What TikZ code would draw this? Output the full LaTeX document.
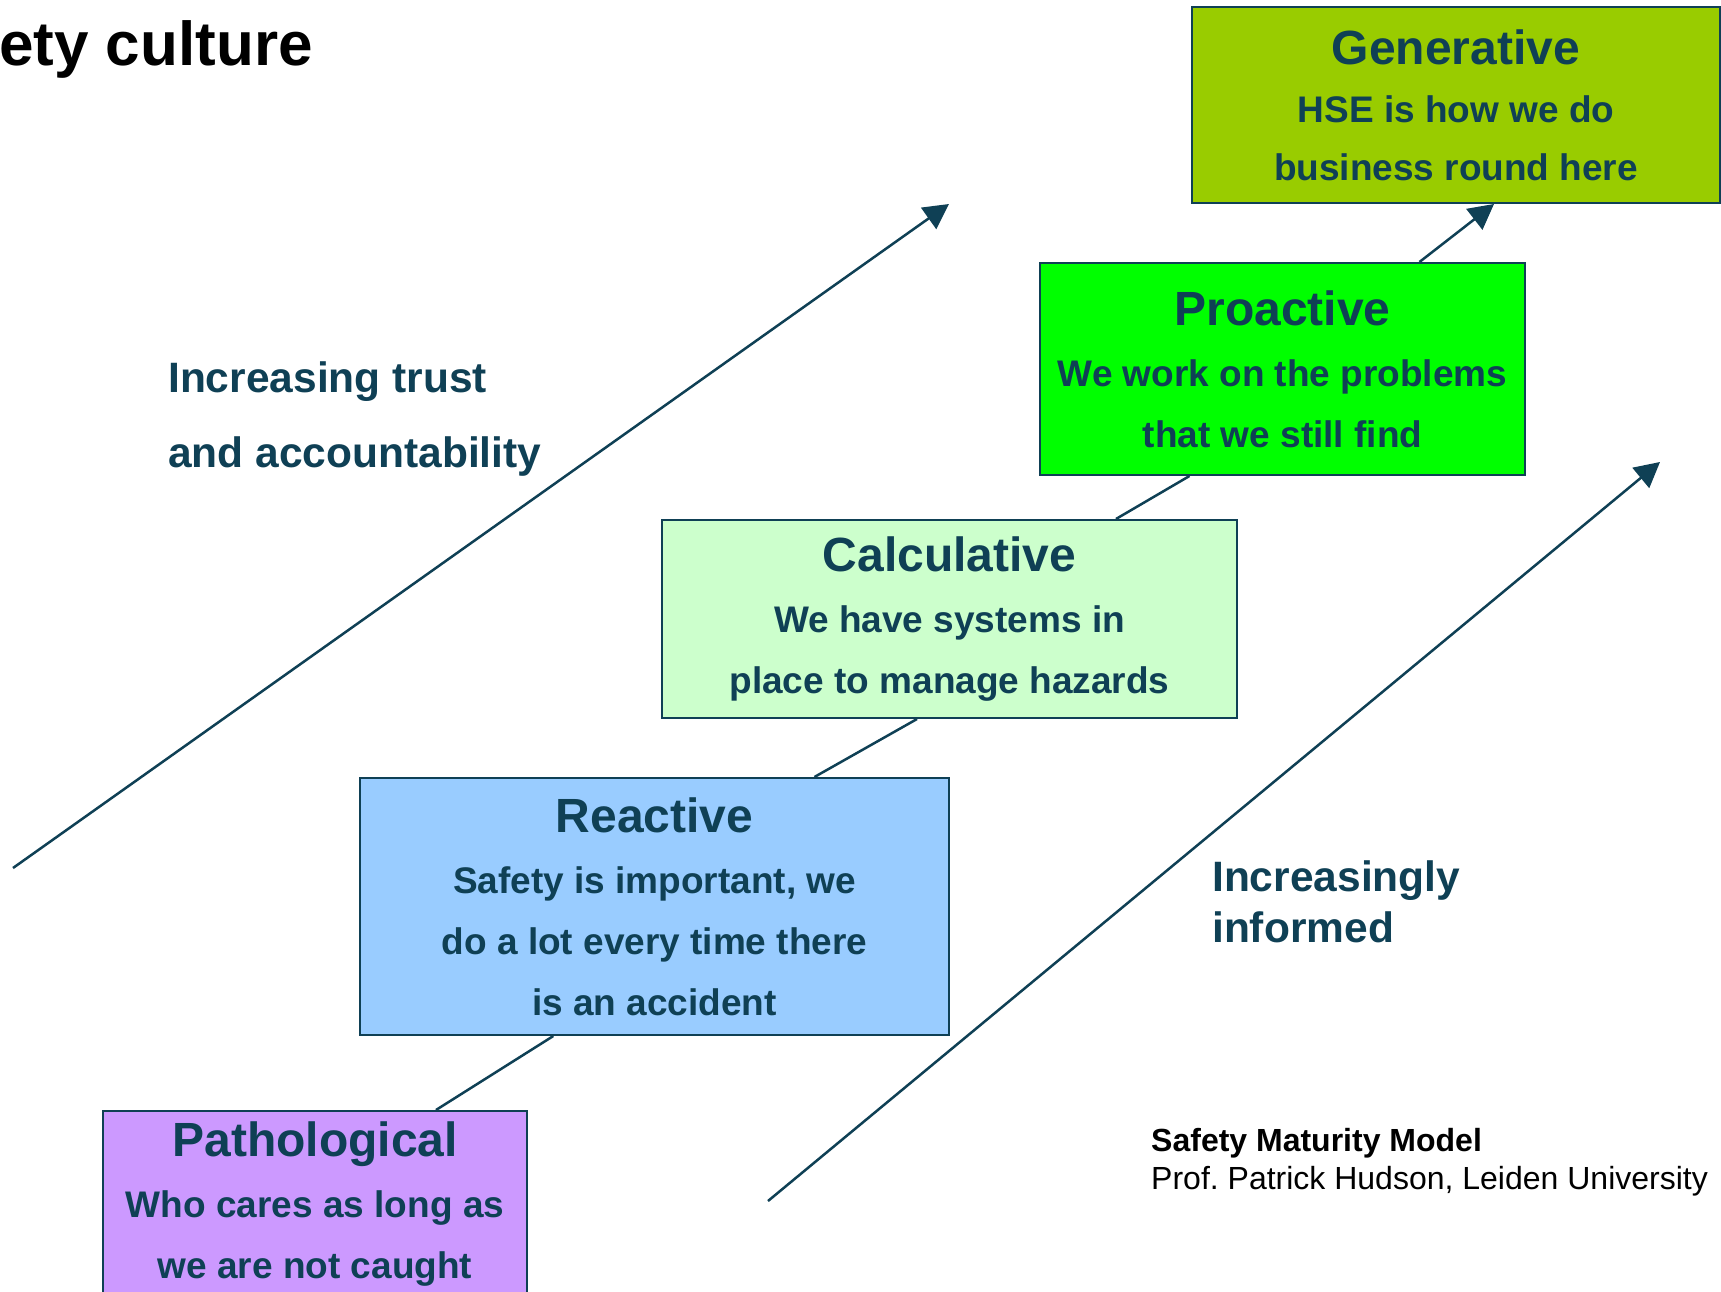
\documentclass[tikz,border=0pt]{standalone}
\usepackage{fontspec}
\setmainfont{Liberation Sans}
\usepackage{xcolor}
\usetikzlibrary{arrows.meta}
\definecolor{ink}{HTML}{0F4055}
\definecolor{genfill}{HTML}{99CC00}
\definecolor{profill}{HTML}{00FF00}
\definecolor{calcfill}{HTML}{CCFFCC}
\definecolor{reacfill}{HTML}{99CCFF}
\definecolor{pathfill}{HTML}{CC99FF}
\newcommand*{\stagetitle}[1]{{\fontsize{48}{58}\selectfont #1}}

\begin{document}
\begin{tikzpicture}[x=1pt, y=-1pt,
  stage/.style={draw=ink, line width=2pt, text=ink, align=center, inner sep=0pt,
    font=\bfseries\fontsize{37}{61}\selectfont},
  link/.style={draw=ink, line width=2.5pt},
  tip/.style={-{Triangle[length=25pt,width=26pt]}},
  note/.style={text=ink, align=left, inner sep=0pt, anchor=north west}]
\useasboundingbox (0,0) rectangle (1721,1292);
\node[anchor=base west, inner sep=0pt, font=\bfseries\fontsize{62}{74}\selectfont] (title) at (-1,66) {ety culture};
% the five stages
\node[stage, fill=pathfill, minimum width=424pt, minimum height=187pt] (patho) at (315,1204.5)
  {\stagetitle{Pathological}\\Who cares as long as\\we are not caught};
\node[stage, fill=reacfill, minimum width=589pt, minimum height=257pt] (reac) at (654.5,906.5)
  {\stagetitle{Reactive}\\Safety is important, we\\do a lot every time there\\is an accident};
\node[stage, fill=calcfill, minimum width=575pt, minimum height=198pt] (calc) at (949.5,619)
  {\stagetitle{Calculative}\\We have systems in\\place to manage hazards};
\node[stage, fill=profill, minimum width=485pt, minimum height=212pt] (pro) at (1282.5,369)
  {\stagetitle{Proactive}\\We work on the problems\\that we still find};
\node[stage, fill=genfill, minimum width=528pt, minimum height=196pt,
  font=\bfseries\fontsize{37}{58}\selectfont] (gen) at (1456,105)
  {\stagetitle{Generative}\\HSE is how we do\\business round here};
\draw[link] (patho.38) -- (reac.232);
\draw[link] (reac.39) -- (calc.252);
\draw[link] (calc.31) -- (pro.229);
\draw[link, tip] (pro.38) -- (gen.291);
% the two trends
\coordinate (trustA) at (13,868);
\coordinate (trustB) at (949,204);
\coordinate (infoA) at (768,1201);
\coordinate (infoB) at (1660,462);
\draw[link, tip] (trustA) -- (trustB);
\draw[link, tip] (infoA) -- (infoB);
\node[note, font=\bfseries\fontsize{42.5}{75}\selectfont] (trust) at (168,361.5) {Increasing trust\\and accountability};
\node[note, font=\bfseries\fontsize{42.5}{51}\selectfont] (info) at (1212,860.5) {Increasingly\\informed};
\node[note, text=black, font=\fontsize{32}{38}\selectfont] (credit) at (1151,1128)
  {\textbf{Safety Maturity Model}\\Prof.\ Patrick Hudson, Leiden University};
\end{tikzpicture}
\end{document}
